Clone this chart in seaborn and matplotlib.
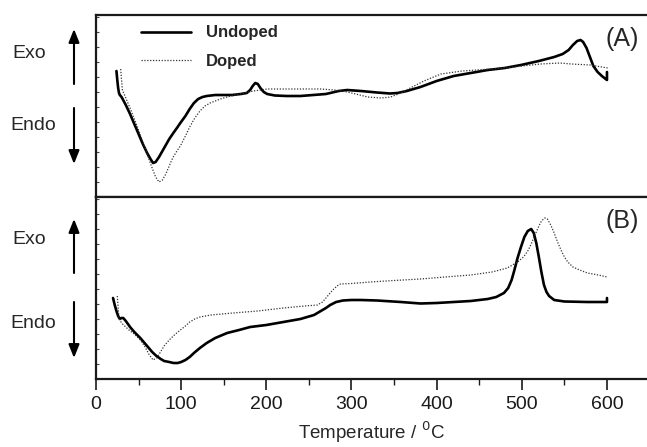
import matplotlib
matplotlib.use("Agg")
import matplotlib.pyplot as plt
import seaborn as sns
import pandas as pd
from matplotlib.ticker import MultipleLocator

sns.set_theme(style="ticks")
plt.rcParams['font.family'] = ['Liberation Sans', 'DejaVu Sans']

# DSC traces (temperature in degC, signal in arbitrary units)
a_undoped_T = [24, 25, 26, 27, 28, 30, 35, 40, 45, 50, 55, 60, 64, 67, 70, 74, 78, 82, 86, 90,
               95, 99, 105, 110, 115, 120, 125, 130, 140, 150, 160, 170, 177, 181, 184, 187,
               190, 193, 197, 201, 210, 224, 240, 255, 270, 285, 295, 311, 330, 345, 354, 365,
               381, 400, 420, 440, 460, 480, 499, 520, 538, 548, 555, 560, 565, 569, 572, 576,
               580, 584, 589, 594, 600, 600]
a_undoped_y = [126, 117, 109, 104, 102, 100, 92, 83, 73, 63, 53, 44, 38, 34, 35, 40, 46, 52, 58,
               63, 69, 74, 81, 88, 94, 98, 100, 101, 102, 102, 102, 103, 104, 107, 111, 114,
               113, 109, 105, 103, 101.5, 101, 101, 102, 103, 106, 107, 106, 104.5, 103.5, 104,
               106, 110, 116, 121, 124, 127, 129, 132, 136, 140, 143, 147, 152, 156, 157, 155,
               149, 140, 131, 125, 121, 117, 125]

a_doped_T = [29, 30, 31, 34, 40, 45, 50, 55, 60, 65, 70, 74, 78, 82, 86, 90, 95, 99, 105, 110,
             116, 122, 128, 134, 146, 158, 169, 185, 201, 240, 264, 280, 295, 305, 319, 335,
             346, 358, 369, 385, 405, 430, 464, 490, 522, 545, 558, 580, 601]
a_doped_y = [128, 117, 107, 101, 89, 78, 67, 55, 43, 31, 20, 15, 17, 23, 31, 39, 46, 51, 61, 70,
             79, 86, 91, 94, 98, 101, 103, 106, 108, 108, 108, 107, 105, 103, 100, 99,
             100, 104, 109, 116, 123, 126, 128, 130, 133, 134, 133, 132, 129]

b_undoped_T = [20, 22, 24, 26, 28, 30, 32, 35, 40, 45, 52, 60, 66, 71, 76, 80, 86, 91, 96, 100,
               105, 110, 115, 122, 130, 140, 154, 168, 181, 200, 220, 240, 256, 264, 270, 275,
               282, 290, 300, 311, 330, 358, 381, 400, 420, 440, 460, 470, 479, 484, 488, 491,
               495, 499, 503, 507, 511, 514, 517, 520, 523, 526, 529, 532, 538, 550, 577, 600,
               600]
b_undoped_y = [81, 74, 68, 63, 60, 61, 61, 58, 52, 47, 41, 33, 27, 23, 20, 18, 17, 16, 16, 17,
               19, 22, 26, 31, 36, 41, 46, 49, 52, 54, 57, 60, 64, 68, 71, 74,
               77, 78.5, 79, 79, 78.5, 77, 75.5, 76, 77, 78, 80, 82, 86, 91, 99, 108,
               121, 132, 142, 148, 150, 146, 136, 122, 107, 94, 87, 83, 79, 77.5, 77, 77,
               81]

b_doped_T = [25, 26, 27, 30, 35, 40, 45, 52, 57, 62, 67, 71, 75, 80, 86, 92, 99, 105, 110, 116,
             122, 135, 161, 190, 220, 245, 260, 266, 272, 278, 283, 287, 300, 322, 350, 381,
             410, 440, 465, 483, 495, 502, 507, 511, 515, 519, 523, 527, 530, 534, 538, 542,
             546, 550, 554, 560, 568, 577, 590, 600]
b_doped_y = [83, 71, 61, 56, 52, 48, 45, 39, 33, 25, 19, 21, 26, 33, 39, 44, 49, 53, 57, 60,
             62, 64, 66, 68, 71, 73, 74, 77, 83, 89, 93, 95, 95.5, 97, 98.5, 100,
             102, 104, 107, 111, 117, 122, 128, 135, 143, 151, 158, 161, 160, 154, 146, 137,
             129, 122, 117, 112, 109, 106, 104, 102]

x_ticks = [0, 100, 200, 300, 400, 500, 600]
panel_labels = ['(A)', '(B)']

fig = plt.figure(figsize=(6.47, 4.47), dpi=100)
ax_a = fig.add_axes([96 / 647, 1 - 197 / 447, 1 - 96 / 647, 182 / 447])
ax_b = fig.add_axes([96 / 647, 1 - 379 / 447, 1 - 96 / 647, 182 / 447], sharex=ax_a)

panels = [
    (ax_a, a_undoped_T, a_undoped_y, a_doped_T, a_doped_y),
    (ax_b, b_undoped_T, b_undoped_y, b_doped_T, b_doped_y),
]

for ax, ut, uy, dt, dy in panels:
    und = pd.DataFrame({'T': ut, 'signal': uy})
    dop = pd.DataFrame({'T': dt, 'signal': dy})
    sns.lineplot(data=und, x='T', y='signal', ax=ax, color='black', lw=1.9,
                 sort=False, estimator=None, label='Undoped')
    sns.lineplot(data=dop, x='T', y='signal', ax=ax, color='#333333', lw=0.9,
                 ls=(0, (1, 1.3)), sort=False, estimator=None, label='Doped')
    ax.set_xlim(0, 647)
    ax.set_ylim(0, 182)
    ax.set_xlabel('')
    ax.set_ylabel('')
    ax.yaxis.set_major_locator(MultipleLocator(15))
    ax.tick_params(axis='y', direction='in', length=2, width=0.8, colors='#444444',
                   labelleft=False)
    ax.spines['right'].set_visible(False)
    for s in ['top', 'left', 'bottom']:
        ax.spines[s].set_linewidth(1.6)
        ax.spines[s].set_color('#1a1a1a')

leg = ax_a.legend(loc='upper left', bbox_to_anchor=(0.055, 1.025), frameon=False,
                  handlelength=3.0, handletextpad=0.9, labelspacing=0.8,
                  prop={'weight': 'bold', 'size': 12})
ax_b.get_legend().remove()

ax_a.tick_params(axis='x', bottom=False, labelbottom=False)
ax_b.set_xticks(x_ticks)
ax_b.xaxis.set_minor_locator(MultipleLocator(50))
ax_b.tick_params(axis='x', which='major', direction='out', length=8, width=1.2,
                 labelsize=14, pad=4, colors='#1a1a1a')
ax_b.tick_params(axis='x', which='minor', direction='out', length=4, width=1.0,
                 colors='#1a1a1a')
ax_b.set_xlabel('Temperature / $^0$C', fontsize=13.5, labelpad=5)

for ax, lab in zip([ax_a, ax_b], panel_labels):
    ax.text(0.985, 0.87, lab, transform=ax.transAxes, ha='right', va='center',
            fontsize=18)

# Exo / Endo side annotations
for (exo_y, endo_y, up0, up1, dn0, dn1) in [(54, 125, 84, 29, 108, 164),
                                            (240, 323, 273, 219, 302, 358)]:
    fig.text(12 / 647, 1 - exo_y / 447, 'Exo', fontsize=14, va='center', ha='left')
    fig.text(10 / 647, 1 - endo_y / 447, 'Endo', fontsize=14, va='center', ha='left')
    for y0, y1 in [(up0, up1), (dn0, dn1)]:
        fig.add_artist(matplotlib.patches.FancyArrowPatch(
            (74 / 647, 1 - y0 / 447), (74 / 647, 1 - y1 / 447), transform=fig.transFigure,
            arrowstyle='-|>,head_length=8,head_width=3.2', color='black', lw=1.5,
            shrinkA=0, shrinkB=0))

plt.savefig('out.png', dpi=100)
plt.close(fig)
